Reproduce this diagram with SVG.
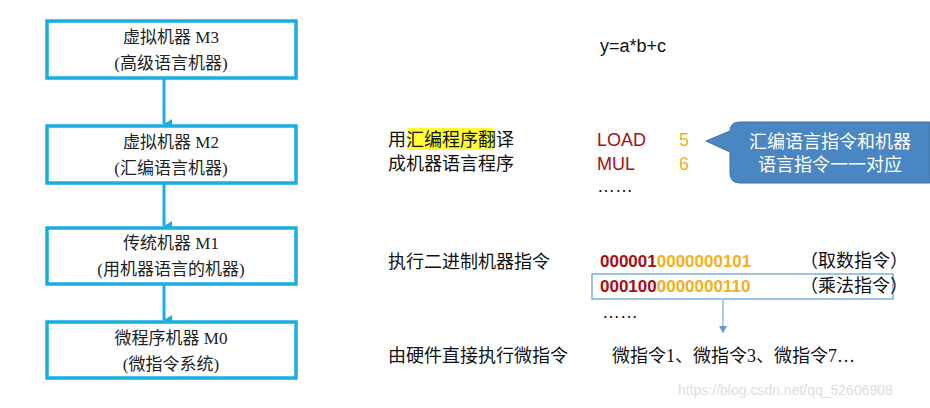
<svg xmlns="http://www.w3.org/2000/svg" width="930" height="408" viewBox="0 0 930 408">
<style>
.box{fill:#fff;stroke:#19aee0;stroke-width:3.5}
.bt{font-family:"Liberation Serif","Noto Sans CJK SC",serif;font-size:17px;fill:#222;text-anchor:middle}
.t{font-family:"Liberation Sans","Noto Sans CJK SC",sans-serif;font-size:18px;fill:#111}
.red{fill:#a50f15}.yel{fill:#f0b020}
.bin{font-family:"Liberation Sans",sans-serif;font-weight:bold;font-size:17px}
</style>
<defs>
<marker id="ab" markerWidth="10" markerHeight="10" refX="5" refY="8" orient="auto" markerUnits="userSpaceOnUse"><path d="M0,0 L10,0 L5,8 Z" fill="#19aee0"/></marker>
<marker id="as" markerWidth="10" markerHeight="10" refX="4" refY="7" markerUnits="userSpaceOnUse"><path d="M0,0 L8,0 L4,7 Z" fill="#5b9bd5"/></marker>
</defs>
<rect width="930" height="408" fill="#fff"/>
<g id="connectors" stroke="#19aee0" stroke-width="3" fill="none">
<line x1="164" y1="79" x2="164" y2="124" marker-end="url(#ab)"/>
<line x1="164" y1="184" x2="164" y2="226" marker-end="url(#ab)"/>
<line x1="164" y1="285" x2="164" y2="320" marker-end="url(#ab)"/>
<line x1="723" y1="300" x2="723" y2="333" stroke="#5b9bd5" stroke-width="1" marker-end="url(#as)"/>
</g>
<g id="m3"><rect class="box" x="47" y="21" width="249" height="57"/><text class="bt" x="171" y="43">虚拟机器 M3</text><text class="bt" x="171" y="69">(高级语言机器)</text></g>
<g id="m2"><rect class="box" x="47" y="126" width="249" height="57"/><text class="bt" x="171" y="148">虚拟机器 M2</text><text class="bt" x="171" y="174">(汇编语言机器)</text></g>
<g id="m1"><rect class="box" x="47" y="228" width="249" height="56"/><text class="bt" x="171" y="249">传统机器 M1</text><text class="bt" x="171" y="275">(用机器语言的机器)</text></g>
<g id="m0"><rect class="box" x="47" y="322" width="249" height="56"/><text class="bt" x="171" y="344">微程序机器 M0</text><text class="bt" x="171" y="370">(微指令系统)</text></g>
<text class="t" x="600" y="52">y=a*b+c</text>
<rect x="408" y="128" width="85" height="22" fill="#ffff33"/>
<text class="t" x="388" y="146">用汇编程序翻译</text>
<text class="t" x="388" y="170">成机器语言程序</text>
<text class="t red" x="597" y="146">LOAD</text><text class="t yel" x="679" y="146">5</text>
<text class="t red" x="597" y="170">MUL</text><text class="t yel" x="679" y="170">6</text>
<text class="t" x="597" y="192" font-size="14">……</text>
<g id="callout"><path d="M740,122 H930 V183 H740 Q730,183 730,173 V152 L706,141 L730,131 Q730,122 740,122 Z" fill="#4a86c2" stroke="#3b6fa3"/>
<text x="830" y="148" font-family="Liberation Sans,'Noto Sans CJK SC',sans-serif" font-size="18" fill="#fff" text-anchor="middle">汇编语言指令和机器</text>
<text x="830" y="171" font-family="Liberation Sans,'Noto Sans CJK SC',sans-serif" font-size="18" fill="#fff" text-anchor="middle">语言指令一一对应</text></g>
<text class="t" x="388" y="268">执行二进制机器指令</text>
<text class="bin" x="600" y="267"><tspan class="red">000001</tspan><tspan class="yel">0000000101</tspan></text>
<text class="t" x="800" y="267">（取数指令）</text>
<rect x="592" y="274" width="301" height="25" fill="none" stroke="#5b9bd5" stroke-width="1.2"/>
<text class="bin" x="600" y="292"><tspan class="red">000100</tspan><tspan class="yel">0000000110</tspan></text>
<text class="t" x="800" y="292">（乘法指令）</text>
<text class="t" x="602" y="318" font-size="14">……</text>
<text class="t" x="388" y="362">由硬件直接执行微指令</text>
<text x="612" y="362" font-family="Liberation Serif,'Noto Sans CJK SC',serif" font-size="18" fill="#111">微指令1、微指令3、微指令7…</text>
<text x="678" y="395" font-family="Liberation Sans,sans-serif" font-size="14" fill="#ddd">https://blog.csdn.net/qq_52606908</text>
</svg>
